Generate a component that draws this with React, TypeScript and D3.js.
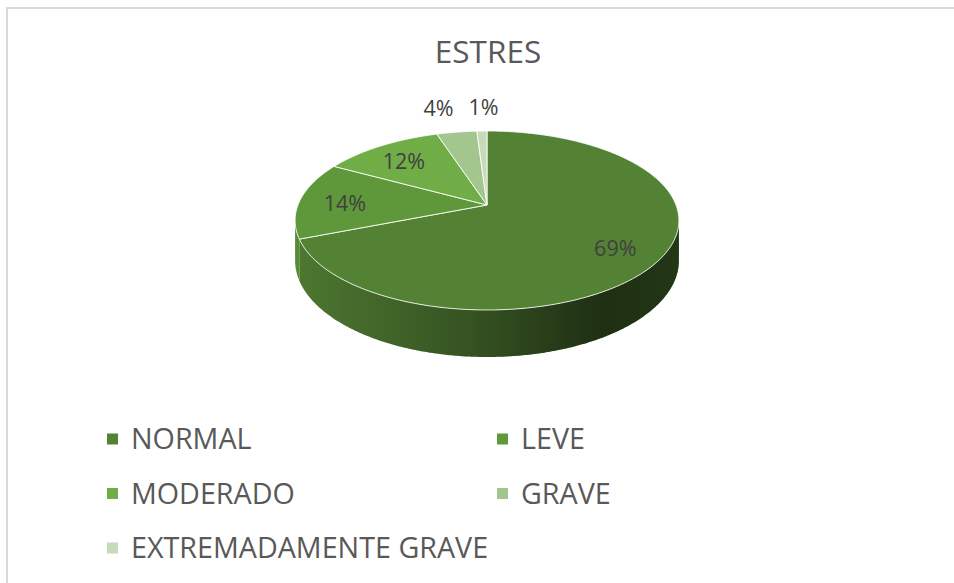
import React, { useRef, useEffect } from 'react';
import * as d3 from 'd3';

// chart data
const categories = ['NORMAL', 'LEVE', 'MODERADO', 'GRAVE', 'EXTREMADAMENTE GRAVE'];
const values = [69, 14, 12, 4, 1];
const colors = ['#548235', '#5f983a', '#70ad47', '#a2c68d', '#c6dcb9'];
const title = 'ESTRES';

const W = 954;
const H = 583;

const App = () => {
  const svgRef = useRef<SVGSVGElement>(null);

  useEffect(() => {
    const svg = d3.select(svgRef.current);
    svg.selectAll('*').remove();
    svg.attr('width', W).attr('height', H);

    const font = '"Open Sans", Lato, sans-serif';

    svg.append('rect').attr('width', W).attr('height', H).attr('fill', '#fff');
    svg.append('rect')
      .attr('x', 7).attr('y', 8).attr('width', W + 20).attr('height', H + 20)
      .attr('fill', 'none').attr('stroke', '#d9d9d9').attr('stroke-width', 2);

    svg.append('text')
      .attr('x', 488).attr('y', 63)
      .attr('text-anchor', 'middle')
      .attr('font-family', font).attr('font-size', 31.5)
      .attr('fill', '#595959')
      .text(title);

    // 3d pie with a bit of perspective
    const cx = 487, cy = 205;
    const A = 189, B = 86.8, depth = 38.9, p = 0.173;
    const proj = (a: number, r: number, z: number): [number, number] => {
      const u = r * Math.sin(a);
      const v = -r * Math.cos(a);
      const w = 1 - p * v;
      return [cx + (A * u) / w, cy + (B * v + depth * z) / w];
    };

    const arcs = d3.pie<number>().sort(null).value(d => d)(values);
    const step = Math.PI / 360;
    const sample = (a0: number, a1: number, z: number) => {
      const pts: [number, number][] = [];
      const n = Math.max(2, Math.ceil((a1 - a0) / step));
      for (let i = 0; i <= n; i++) pts.push(proj(a0 + ((a1 - a0) * i) / n, 1, z));
      return pts;
    };

    const defs = svg.append('defs');
    const grad = defs.append('linearGradient')
      .attr('id', 'sideShade')
      .attr('gradientUnits', 'userSpaceOnUse')
      .attr('x1', cx - A * 1.02).attr('x2', cx + A * 1.02)
      .attr('y1', 0).attr('y2', 0);
    [[0, 0.08], [0.45, 0.36], [0.8, 0.64], [1, 0.58]].forEach(([o, op]) => {
      grad.append('stop').attr('offset', o).attr('stop-color', '#000').attr('stop-opacity', op);
    });

    // visible front side runs between the two horizontal extremes
    const sideFrom = Math.PI - Math.acos(p);
    const sideTo = Math.PI + Math.acos(p);
    const line = d3.line();

    const sides = svg.append('g');
    arcs.forEach((d, i) => {
      const a0 = Math.max(d.startAngle, sideFrom);
      const a1 = Math.min(d.endAngle, sideTo);
      if (a1 <= a0) return;
      const pts = [...sample(a0, a1, 0), ...sample(a0, a1, 1).reverse()];
      const path = line(pts) + 'Z';
      sides.append('path').attr('d', path).attr('fill', colors[i]);
      sides.append('path').attr('d', path).attr('fill', 'url(#sideShade)');
    });

    const tops = svg.append('g');
    arcs.forEach((d, i) => {
      const pts = [proj(0, 0, 0), ...sample(d.startAngle, d.endAngle, 0)];
      tops.append('path')
        .attr('d', line(pts) + 'Z')
        .attr('fill', colors[i])
        .attr('stroke', '#fff')
        .attr('stroke-opacity', 0.85)
        .attr('stroke-width', 1)
        .attr('stroke-linejoin', 'round');
    });

    // data labels
    const labels = svg.append('g')
      .attr('font-family', font).attr('font-size', 21.5).attr('fill', '#404040');
    const outside: { x: number; y: number; text: string }[] = [];
    arcs.forEach(d => {
      const mid = (d.startAngle + d.endAngle) / 2;
      const text = `${d.data}%`;
      if (d.data >= 10) {
        const [x, y] = proj(mid, 0.76, 0);
        labels.append('text').attr('x', x).attr('y', y + 3).attr('dy', '0.35em')
          .attr('text-anchor', 'middle').text(text);
      } else {
        const [x, y] = proj(mid, 1, 0);
        outside.push({ x, y: y - 24, text });
      }
    });
    // push crowded outside labels leftwards
    let limit = Infinity;
    for (let k = outside.length - 1; k >= 0; k--) {
      const o = outside[k];
      const wdt = o.text.length * 12.5;
      let left = o.x - wdt / 2 - 1;
      if (left + wdt > limit) left = limit - wdt;
      labels.append('text').attr('x', left).attr('y', o.y).attr('dy', '0.35em').text(o.text);
      limit = left - 20;
    }

    // legend
    const legend = svg.append('g')
      .attr('font-family', font).attr('font-size', 28.7).attr('fill', '#595959');
    const colX = [107, 497];
    const rowY = d3.scalePoint<number>().domain([0, 1, 2]).range([439, 548]);
    categories.forEach((c, i) => {
      const gx = colX[i % 2];
      const gy = rowY(Math.floor(i / 2)) as number;
      legend.append('rect').attr('x', gx).attr('y', gy - 5.5).attr('width', 11).attr('height', 11).attr('fill', colors[i]);
      legend.append('text').attr('x', gx + 24).attr('y', gy).attr('dy', '0.36em').text(c);
    });
  }, []);

  return (
    <div style={{ position: 'absolute', left: 0, top: 0 }}>
      <svg ref={svgRef} style={{ display: 'block' }}></svg>
    </div>
  );
};

export default App;
